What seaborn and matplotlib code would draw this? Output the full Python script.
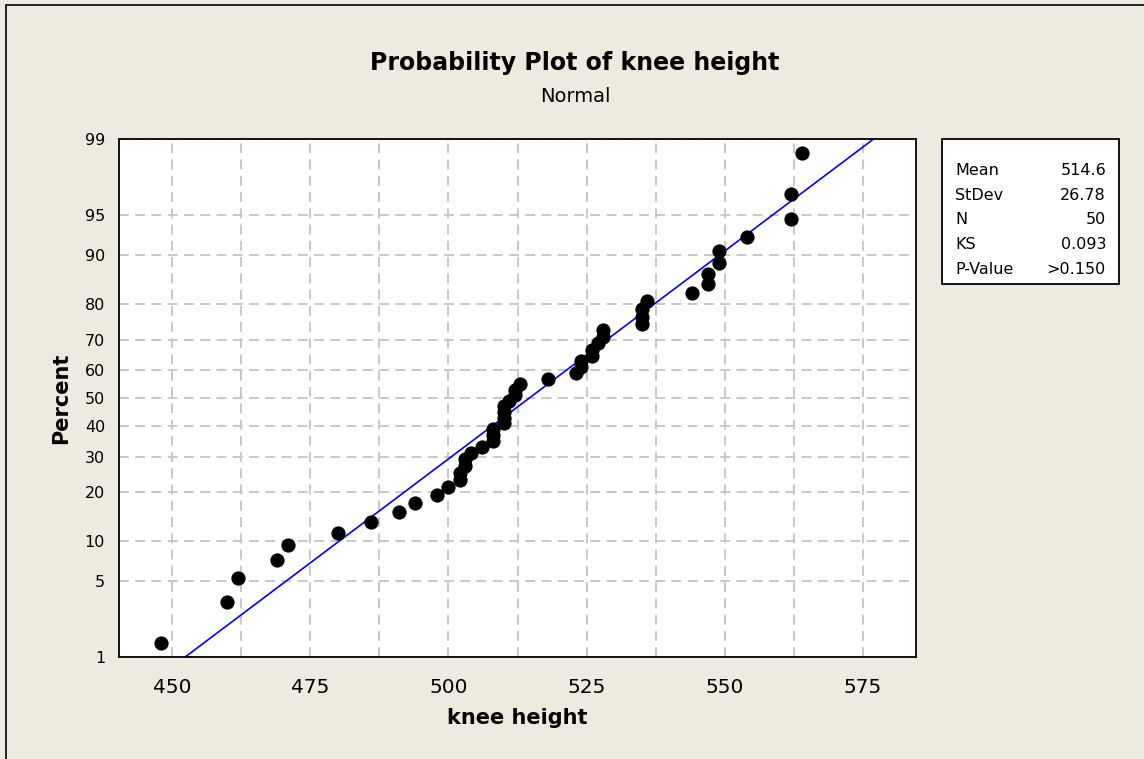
import numpy as np
import pandas as pd
import matplotlib
matplotlib.use("Agg")
import matplotlib.pyplot as plt
from matplotlib.patches import Rectangle
from matplotlib.ticker import FixedLocator, MultipleLocator, NullLocator
import seaborn as sns
from statistics import NormalDist

# ---- data ---------------------------------------------------------------
knee_height = [448, 460, 462, 469, 471, 480, 486, 491, 494, 498,
               500, 502, 502, 503, 503, 504, 506, 508, 508, 508,
               510, 510, 510, 510, 511, 512, 512, 513, 518, 523,
               524, 524, 526, 526, 527, 528, 528, 535, 535, 535,
               536, 544, 547, 547, 549, 549, 554, 562, 562, 564]
mean_value = 514.6
stdev_value = 26.78
stat_names = ["Mean", "StDev", "N", "KS", "P-Value"]
stat_values = ["514.6", "26.78", "50", "0.093", ">0.150"]
percent_ticks = [1, 5, 10, 20, 30, 40, 50, 60, 70, 80, 90, 95, 99]
x_ticks = [450, 475, 500, 525, 550, 575]

# ---- normal probability scale -------------------------------------------
std_normal = NormalDist()
_ppf = np.vectorize(std_normal.inv_cdf, otypes=[float])
_cdf = np.vectorize(std_normal.cdf, otypes=[float])


def pct_to_z(p):
    q = np.clip(np.asarray(p, dtype=float) / 100.0, 1e-9, 1 - 1e-9)
    return _ppf(q)


def z_to_pct(z):
    return _cdf(np.asarray(z, dtype=float)) * 100.0


values = np.sort(np.asarray(knee_height, dtype=float))
n = len(values)
ranks = np.arange(1, n + 1)
plot_pos = (ranks - 0.3) / (n + 0.4) * 100.0   # median ranks
df = pd.DataFrame({"knee height": values, "Percent": plot_pos})

fit_pct = np.linspace(0.05, 99.95, 400)
fit_df = pd.DataFrame({"knee height": mean_value + stdev_value * pct_to_z(fit_pct),
                       "Percent": fit_pct})

# ---- figure ---------------------------------------------------------------
sns.set_style("white")
plt.rcParams["font.family"] = ["DejaVu Sans"]
plt.rcParams.update({"text.color": "black", "axes.labelcolor": "black",
                     "xtick.color": "black", "ytick.color": "black"})

W, H = 1144, 759
bg = "#EEEAE0"
fig = plt.figure(figsize=(W / 100, H / 100), dpi=100, facecolor=bg)

left, right, top, bottom = 119, 915.6, 139, 657.3
ax = fig.add_axes([left / W, 1 - bottom / H, (right - left) / W, (bottom - top) / H])
ax.set_facecolor("white")

ax.set_yscale("function", functions=(pct_to_z, z_to_pct))

sns.lineplot(data=fit_df, x="knee height", y="Percent", sort=False, estimator=None,
             color="#0000FF", linewidth=1.2, ax=ax, zorder=2)
sns.scatterplot(data=df, x="knee height", y="Percent", color="black", s=105,
                linewidth=0, ax=ax, zorder=3)

ax.set_xlim(440.4, 584.5)
ax.set_ylim(1, 99)

ax.yaxis.set_major_locator(FixedLocator(percent_ticks))
ax.yaxis.set_minor_locator(NullLocator())
ax.yaxis.set_major_formatter(plt.FuncFormatter(lambda v, _: f"{v:g}"))
ax.xaxis.set_major_locator(FixedLocator(x_ticks))
ax.xaxis.set_minor_locator(MultipleLocator(12.5))

grid_kw = dict(color="#C4C4C4", linewidth=1.3, linestyle=(0, (5.5, 3.5)))
ax.grid(which="both", axis="x", **grid_kw)
ax.grid(which="major", axis="y", **grid_kw)
ax.set_axisbelow(True)

for sp in ax.spines.values():
    sp.set_color("black")
    sp.set_linewidth(1.3)

ax.tick_params(axis="x", which="major", direction="out", length=7, width=1,
               labelsize=14.5, pad=8, colors="black")
ax.tick_params(axis="x", which="minor", length=0)
ax.tick_params(axis="y", which="major", direction="out", length=7, width=1,
               labelsize=11.5, pad=3, colors="black")

ax.set_xlabel("knee height", fontsize=15, fontweight="bold", labelpad=8, color="black")
ax.set_ylabel("Percent", fontsize=15, fontweight="bold", labelpad=10, color="black")

# titles
fig.text(575 / W, 1 - 70 / H, "Probability Plot of knee height", ha="center",
         va="baseline", fontsize=17, fontweight="bold", color="black")
fig.text(575 / W, 1 - 102 / H, "Normal", ha="center", va="baseline", fontsize=14,
         color="black")

# statistics box
box = Rectangle((942 / W, 1 - 284 / H), (1119 - 942) / W, (284 - 139) / H,
                transform=fig.transFigure, facecolor="white", edgecolor="black",
                linewidth=1.3)
fig.add_artist(box)
for i, (name, val) in enumerate(zip(stat_names, stat_values)):
    yb = 1 - (175 + i * 24.7) / H
    fig.text(955 / W, yb, name, ha="left", va="baseline", fontsize=11.5, color="black")
    fig.text(1106 / W, yb, val, ha="right", va="baseline", fontsize=11.5, color="black")

# outer frame
frame = Rectangle((6 / W, -0.05), 1.1, 1 - 5 / H + 0.05, transform=fig.transFigure,
                  facecolor="none", edgecolor="black", linewidth=1.2)
fig.add_artist(frame)

fig.savefig("out.png", dpi=100, facecolor=bg)
